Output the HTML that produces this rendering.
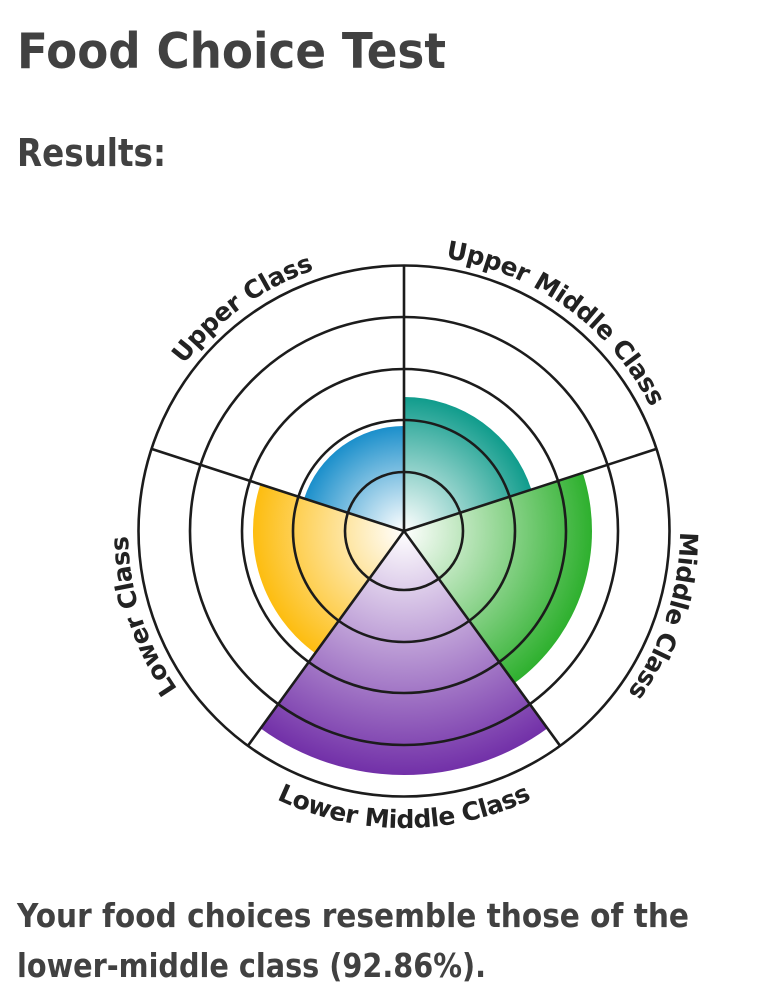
<!DOCTYPE html>
<html>
<head>
<meta charset="utf-8">
<title>Food Choice Test</title>
<style>
html,body{margin:0;padding:0;background:#fff;width:762px;height:1000px;overflow:hidden}
svg{display:block}
.h{font-family:"DejaVu Sans",sans-serif;font-weight:bold;fill:#414141}
.l{font-family:"DejaVu Sans",sans-serif;font-weight:bold;font-size:25px;fill:#222;letter-spacing:-0.45px}
</style>
</head>
<body>
<svg width="762" height="1000" viewBox="0 0 762 1000" xmlns="http://www.w3.org/2000/svg">
<defs>
<radialGradient id="gb" gradientUnits="userSpaceOnUse" cx="404" cy="531" r="105"><stop offset="0" stop-color="#ffffff"/><stop offset="1" stop-color="#1b8fcb"/></radialGradient>
<radialGradient id="gt" gradientUnits="userSpaceOnUse" cx="404" cy="531" r="134"><stop offset="0" stop-color="#ffffff"/><stop offset="1" stop-color="#109c8c"/></radialGradient>
<radialGradient id="gg" gradientUnits="userSpaceOnUse" cx="404" cy="531" r="188"><stop offset="0" stop-color="#ffffff"/><stop offset="1" stop-color="#2eb02e"/></radialGradient>
<radialGradient id="gp" gradientUnits="userSpaceOnUse" cx="404" cy="531" r="244"><stop offset="0" stop-color="#ffffff"/><stop offset="1" stop-color="#7230a8"/></radialGradient>
<radialGradient id="gy" gradientUnits="userSpaceOnUse" cx="404" cy="531" r="151"><stop offset="0" stop-color="#ffffff"/><stop offset="1" stop-color="#fdbd10"/></radialGradient>
<path id="a1" d="M291.7 278.9A276 276 0 0 1 678.5 559.8"/>
<path id="a2" d="M609.1 346.3A276 276 0 0 1 461.4 801"/>
<path id="a3" d="M146.8 679.5A297 297 0 0 0 661.2 679.5"/>
<path id="a4" d="M346.6 801A276 276 0 0 1 198.9 346.3"/>
<path id="a5" d="M129.5 559.8A276 276 0 0 1 516.3 278.9"/>
</defs>

<text class="h" x="17" y="68" font-size="49" textLength="429" lengthAdjust="spacingAndGlyphs">Food Choice Test</text>
<text class="h" x="17" y="166" font-size="38" textLength="149" lengthAdjust="spacingAndGlyphs">Results:</text>
<text class="h" x="17" y="927" font-size="33" textLength="672" lengthAdjust="spacingAndGlyphs">Your food choices resemble those of the</text>
<text class="h" x="17" y="977" font-size="33" textLength="469" lengthAdjust="spacingAndGlyphs">lower-middle class (92.86%).</text>

<path d="M404 531L404 426A105 105 0 0 0 304.1 498.6Z" fill="url(#gb)"/>
<path d="M404 531L404 397A134 134 0 0 1 531.4 489.6Z" fill="url(#gt)"/>
<path d="M404 531L582.8 472.9A188 188 0 0 1 514.5 683.1Z" fill="url(#gg)"/>
<path d="M404 531L315.2 653.2A151 151 0 0 1 260.4 484.3Z" fill="url(#gy)"/>
<path d="M404 531L547.4 728.4A244 244 0 0 1 260.6 728.4Z" fill="url(#gp)"/>

<g fill="none" stroke="#1c1c1c" stroke-width="2.6">
<circle cx="404" cy="531" r="265.5"/>
<circle cx="404" cy="531" r="214"/>
<circle cx="404" cy="531" r="162"/>
<circle cx="404" cy="531" r="111"/>
<circle cx="404" cy="531" r="59"/>
<path d="M404 531L404 265.5M404 531L656.5 448.9M404 531L560.1 745.8M404 531L247.9 745.8M404 531L151.5 448.9"/>
</g>

<text class="l" text-anchor="middle"><textPath href="#a1" startOffset="50%">Upper Middle Class</textPath></text>
<text class="l" text-anchor="middle"><textPath href="#a2" startOffset="50%">Middle Class</textPath></text>
<text class="l" text-anchor="middle"><textPath href="#a3" startOffset="50%">Lower Middle Class</textPath></text>
<text class="l" text-anchor="middle"><textPath href="#a4" startOffset="50%">Lower Class</textPath></text>
<text class="l" text-anchor="middle"><textPath href="#a5" startOffset="50%">Upper Class</textPath></text>
</svg>
</body>
</html>
